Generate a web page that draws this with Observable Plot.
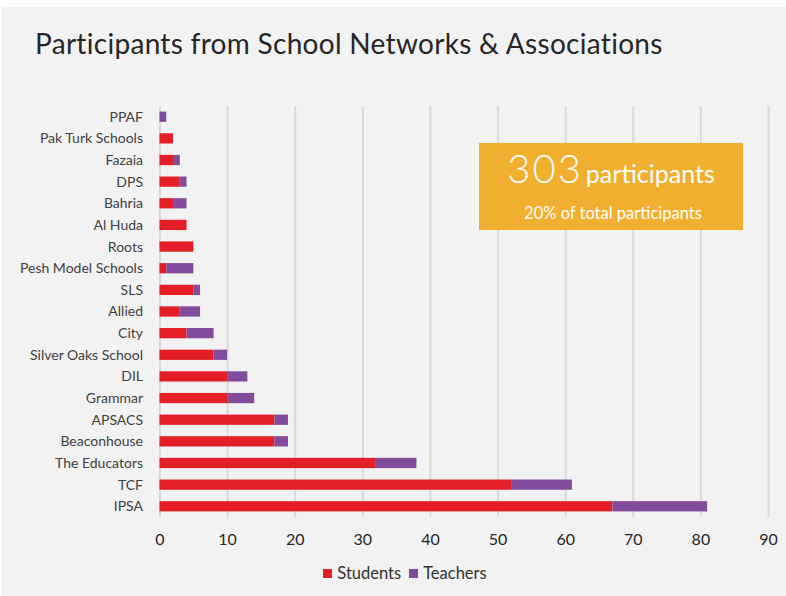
<!DOCTYPE html>
<html>
<head>
<meta charset="utf-8">
<script src="https://cdn.jsdelivr.net/npm/d3@7"></script>
<script src="https://cdn.jsdelivr.net/npm/@observablehq/plot@0.6"></script>
<style>
  html, body { margin: 0; padding: 0; overflow: hidden; background: #ffffff; font-family: Lato, "Open Sans", sans-serif; }
  #page { position: relative; width: 786px; height: 596px; overflow: hidden; background: #ffffff; }
  #panel { position: absolute; left: 2px; top: 7px; width: 784px; height: 589px; background: #f2f2f2; }
  #title { position: absolute; left: 35px; top: 29px; font-size: 28px; line-height: 1; letter-spacing: 0.3px; color: #262626; white-space: nowrap; font-weight: 400; }
  #chart { position: absolute; left: 0; top: 0; width: 786px; height: 555px; }
  #chart svg { display: block; width: 786px; height: 555px; max-width: none; }
  #legend { position: absolute; left: 12px; width: 786px; top: 563px; display: flex; justify-content: center; align-items: center; font-size: 16.5px; color: #333; }
  #legend .sw { display: inline-block; width: 9px; height: 9px; margin-right: 5px; }
  #legend .item { display: flex; align-items: center; margin: 0 4px; }
  #callout { position: absolute; left: 479px; top: 143px; width: 264px; height: 87px; background: #f1af2f; color: #fff; }
  #callout .big { position: absolute; left: 0; width: 264px; top: 5px; line-height: 1; text-align: center; white-space: nowrap; }
  #callout .num { font-size: 40px; font-weight: 300; letter-spacing: 2px; vertical-align: baseline; }
  #callout .word { font-size: 25px; font-weight: 400; margin-left: 3px; vertical-align: baseline; }
  #callout .sub { position: absolute; left: 2px; width: 264px; top: 62px; line-height: 1; text-align: center; font-size: 16.5px; }
</style>
</head>
<body>
<div id="page">
  <div id="panel"></div>
  <div id="title">Participants from School Networks &amp; Associations</div>
  <div id="chart"></div>
  <div id="callout">
    <div class="big"><span class="num">303</span><span class="word">participants</span></div>
    <div class="sub">20% of total participants</div>
  </div>
  <div id="legend"></div>
</div>
<script>
const categories = ["PPAF", "Pak Turk Schools", "Fazaia", "DPS", "Bahria", "Al Huda", "Roots",
  "Pesh Model Schools", "SLS", "Allied", "City", "Silver Oaks School", "DIL", "Grammar",
  "APSACS", "Beaconhouse", "The Educators", "TCF", "IPSA"];
const students = [0, 2, 2, 3, 2, 4, 5, 1, 5, 3, 4, 8, 10, 10, 17, 17, 32, 52, 67];
const teachers = [1, 0, 1, 1, 2, 0, 0, 4, 1, 3, 4, 2, 3, 4, 2, 2, 6, 9, 14];
const seriesNames = ["Students", "Teachers"];
const seriesColors = ["#e41e26", "#834b9c"];
const xTicks = [0, 10, 20, 30, 40, 50, 60, 70, 80, 90];

const rows = [];
categories.forEach((c, i) => {
  rows.push({category: c, series: "Students", value: students[i]});
  rows.push({category: c, series: "Teachers", value: teachers[i]});
});

const chart = Plot.plot({
  width: 786,
  height: 555,
  marginLeft: 159.5,
  marginRight: 18,
  marginTop: 105.9,
  marginBottom: 37.9,
  style: { background: "transparent", fontFamily: "Lato, 'Open Sans', sans-serif", color: "#333" },
  x: { domain: [0, 90], ticks: xTicks, label: null },
  y: { domain: categories, padding: 0, round: false, label: null },
  color: { domain: seriesNames, range: seriesColors },
  marks: [
    Plot.ruleX(xTicks, { stroke: "#d9d9d9", strokeWidth: 2 }),
    Plot.barX(rows, Plot.stackX({ y: "category", x: "value", fill: "series", order: seriesNames, insetTop: 5.7, insetBottom: 5.7 })),
    Plot.axisX({ ticks: xTicks, tickSize: 0, tickPadding: 16, fontSize: 16, fill: "#262626", label: null }),
    Plot.axisY({ tickSize: 0, tickPadding: 17, fontSize: 14, fill: "#404040", label: null })
  ]
});
document.getElementById("chart").appendChild(chart);

const legend = document.getElementById("legend");
seriesNames.forEach((s, i) => {
  const item = document.createElement("div");
  item.className = "item";
  const sw = document.createElement("span");
  sw.className = "sw";
  sw.style.background = seriesColors[i];
  item.appendChild(sw);
  item.appendChild(document.createTextNode(s));
  legend.appendChild(item);
});
</script>
</body>
</html>
